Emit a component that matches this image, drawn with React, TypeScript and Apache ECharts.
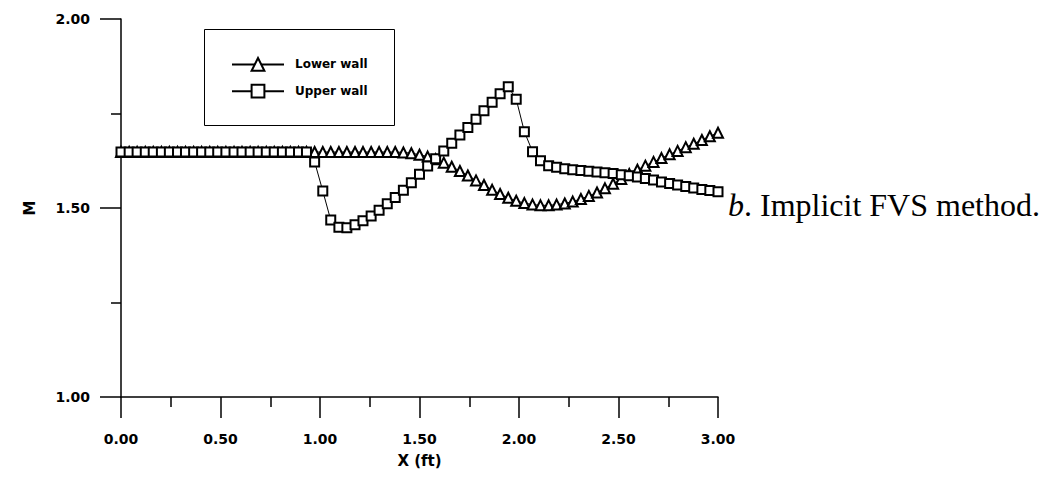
import React, { useEffect, useRef } from "react";
import * as echarts from "echarts";

const xValues = [
  0, 0.041, 0.081, 0.122, 0.162, 0.203, 0.243, 0.284, 0.324, 0.365,
  0.405, 0.446, 0.486, 0.527, 0.568, 0.608, 0.649, 0.689, 0.73, 0.77,
  0.811, 0.851, 0.892, 0.932, 0.973, 1.014, 1.054, 1.095, 1.135, 1.176,
  1.216, 1.257, 1.297, 1.338, 1.378, 1.419, 1.459, 1.5, 1.541, 1.581,
  1.622, 1.662, 1.703, 1.743, 1.784, 1.824, 1.865, 1.905, 1.946, 1.986,
  2.027, 2.068, 2.108, 2.149, 2.189, 2.23, 2.27, 2.311, 2.351, 2.392,
  2.432, 2.473, 2.514, 2.554, 2.595, 2.635, 2.676, 2.716, 2.757, 2.797,
  2.838, 2.878, 2.919, 2.959, 3.0,
];

const lowerWall = [
  1.648, 1.648, 1.648, 1.648, 1.648, 1.648, 1.648, 1.648, 1.648, 1.648,
  1.648, 1.648, 1.648, 1.648, 1.648, 1.648, 1.648, 1.648, 1.648, 1.648,
  1.648, 1.648, 1.648, 1.648, 1.648, 1.648, 1.648, 1.648, 1.648, 1.648,
  1.648, 1.648, 1.648, 1.648, 1.648, 1.647, 1.645, 1.641, 1.636, 1.629,
  1.62, 1.609, 1.598, 1.586, 1.573, 1.561, 1.548, 1.537, 1.527, 1.519,
  1.513, 1.509, 1.507, 1.507, 1.509, 1.512, 1.517, 1.524, 1.532, 1.541,
  1.552, 1.564, 1.577, 1.59, 1.601, 1.612, 1.622, 1.632, 1.642, 1.651,
  1.661, 1.67, 1.68, 1.69, 1.699,
];

const upperWall = [
  1.648, 1.648, 1.648, 1.648, 1.648, 1.648, 1.648, 1.648, 1.648, 1.648,
  1.648, 1.648, 1.648, 1.648, 1.648, 1.648, 1.648, 1.648, 1.648, 1.648,
  1.648, 1.648, 1.648, 1.648, 1.622, 1.545, 1.468, 1.449, 1.448, 1.456,
  1.466, 1.479, 1.494, 1.511, 1.528, 1.547, 1.567, 1.589, 1.611, 1.63,
  1.651, 1.671, 1.693, 1.713, 1.735, 1.757, 1.78, 1.802, 1.821, 1.788,
  1.702, 1.649, 1.625, 1.612, 1.608, 1.604, 1.601, 1.599, 1.597, 1.595,
  1.593, 1.591, 1.588, 1.585, 1.582, 1.578, 1.574, 1.569, 1.565, 1.561,
  1.557, 1.553, 1.549, 1.546, 1.543,
];

const seriesNames = ["Lower wall", "Upper wall"];
const xAxisName = "X (ft)";
const yAxisName = "M";
const caption = "b. Implicit FVS method.";

const FONT = "'DejaVu Sans', 'Liberation Sans', Arial, sans-serif";

export default function App() {
  const ref = useRef<HTMLDivElement>(null);

  useEffect(() => {
    if (!ref.current) return;
    const chart = echarts.init(ref.current, undefined, { renderer: "svg" });
    const pair = (ys: number[]) => xValues.map((x, i) => [x, ys[i]]);

    chart.setOption({
      animation: false,
      backgroundColor: "#ffffff",
      grid: { left: 121, right: 333, top: 19, bottom: 82, containLabel: false },
      legend: {
        data: seriesNames,
        orient: "vertical",
        left: 226,
        top: 52,
        itemWidth: 52,
        itemHeight: 16,
        itemGap: 12,
        textStyle: {
          fontFamily: FONT,
          fontWeight: "bold",
          fontSize: 12,
          color: "#000",
          padding: [0, 0, 0, 6],
        },
      },
      xAxis: {
        type: "value",
        min: 0,
        max: 3,
        interval: 0.5,
        name: xAxisName,
        nameLocation: "middle",
        nameGap: 56,
        nameTextStyle: { fontFamily: FONT, fontWeight: "bold", fontSize: 15, color: "#000" },
        axisLine: { show: true, onZero: false, lineStyle: { color: "#000", width: 1.5 } },
        axisTick: { show: true, inside: false, length: 21, lineStyle: { color: "#000", width: 1.5 } },
        minorTick: { show: true, splitNumber: 2, length: 10, lineStyle: { color: "#000", width: 1.5 } },
        splitLine: { show: false },
        axisLabel: {
          margin: 35,
          fontFamily: FONT,
          fontWeight: "bold",
          fontSize: 14,
          color: "#000",
          formatter: (v: number) => v.toFixed(2),
        },
      },
      yAxis: {
        type: "value",
        min: 1,
        max: 2,
        interval: 0.5,
        name: yAxisName,
        nameLocation: "middle",
        nameGap: 84,
        nameRotate: 90,
        nameTextStyle: { fontFamily: FONT, fontWeight: "bold", fontSize: 15, color: "#000" },
        axisLine: { show: true, onZero: false, lineStyle: { color: "#000", width: 1.5 } },
        axisTick: { show: true, inside: false, length: 21, lineStyle: { color: "#000", width: 1.5 } },
        minorTick: { show: true, splitNumber: 2, length: 10, lineStyle: { color: "#000", width: 1.5 } },
        splitLine: { show: false },
        axisLabel: {
          margin: 31,
          fontFamily: FONT,
          fontWeight: "bold",
          fontSize: 14,
          color: "#000",
          formatter: (v: number) => v.toFixed(2),
        },
      },
      series: [
        {
          name: seriesNames[0],
          type: "line",
          data: pair(lowerWall),
          symbol: "triangle",
          symbolSize: 10,
          showAllSymbol: true,
          lineStyle: { color: "#000", width: 1 },
          itemStyle: { color: "#fff", borderColor: "#000", borderWidth: 2 },
          z: 2,
        },
        {
          name: seriesNames[1],
          type: "line",
          data: pair(upperWall),
          symbol: "rect",
          symbolSize: 9,
          showAllSymbol: true,
          lineStyle: { color: "#000", width: 1 },
          itemStyle: { color: "#fff", borderColor: "#000", borderWidth: 2 },
          z: 3,
        },
      ],
      graphic: [
        {
          type: "rect",
          left: 202,
          top: 27,
          shape: { width: 190, height: 96 },
          style: { fill: "none", stroke: "#000", lineWidth: 1 },
          z: 0,
        },
        {
          type: "text",
          left: 728,
          top: 189,
          style: {
            text: "{i|b}" + caption.slice(1),
            fontFamily: "'Liberation Serif', 'Times New Roman', serif",
            fontSize: 32,
            fill: "#000",
            rich: {
              i: {
                fontFamily: "'Liberation Serif', 'Times New Roman', serif",
                fontStyle: "italic",
                fontSize: 32,
                fill: "#000",
              },
            },
          },
        },
      ],
    });

    return () => chart.dispose();
  }, []);

  return (
    <div
      ref={ref}
      style={{ position: "fixed", left: 0, top: 0, width: 1051, height: 479, background: "#fff" }}
    />
  );
}
